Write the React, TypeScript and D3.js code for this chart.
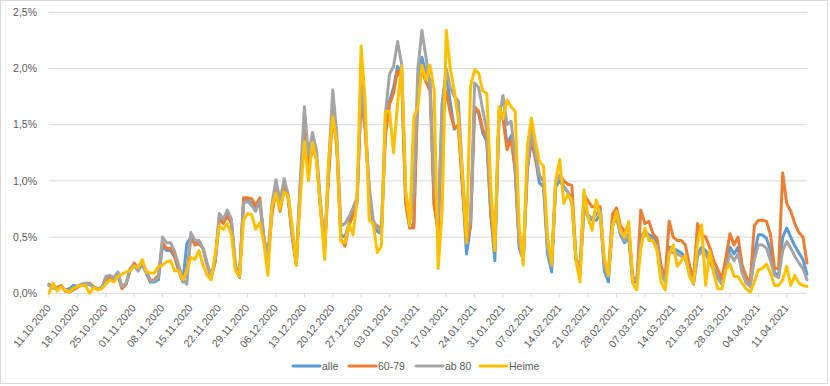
import React, { useEffect, useRef } from "react";
import * as d3 from "d3";

// daily share in %, 11.10.2020 - 16.04.2021 (one row = one week)
const alle = [
  0.07, 0.05, 0.04, 0.06, 0.03, 0.04, 0.07,
  0.06, 0.07, 0.08, 0.08, 0.05, 0.04, 0.05,
  0.13, 0.15, 0.13, 0.17, 0.05, 0.08, 0.22,
  0.25, 0.20, 0.26, 0.18, 0.10, 0.10, 0.12,
  0.42, 0.38, 0.38, 0.32, 0.20, 0.10, 0.44,
  0.50, 0.44, 0.45, 0.40, 0.26, 0.15, 0.28,
  0.66, 0.63, 0.70, 0.63, 0.22, 0.14, 0.82,
  0.83, 0.80, 0.75, 0.82, 0.48, 0.30, 0.72,
  0.95, 0.76, 0.97, 0.86, 0.52, 0.26, 0.97,
  1.50, 1.15, 1.33, 1.20, 0.75, 0.40, 1.10,
  1.65, 1.35, 0.52, 0.50, 0.62, 0.72, 0.80,
  1.82, 1.50, 0.90, 0.60, 0.55, 0.53, 1.45,
  1.71, 1.83, 2.02, 1.95, 0.80, 0.58, 0.62,
  1.85, 2.10, 1.95, 1.90, 0.80, 0.55, 1.69,
  1.94, 1.70, 1.46, 1.50, 0.95, 0.35, 0.60,
  1.65, 1.60, 1.43, 1.35, 0.70, 0.29, 1.55,
  1.60, 1.33, 1.40, 1.10, 0.40, 0.30, 1.10,
  1.35, 1.20, 0.98, 0.95, 0.35, 0.19, 0.95,
  1.00, 0.95, 0.90, 0.85, 0.30, 0.20, 0.75,
  0.70, 0.65, 0.65, 0.70, 0.20, 0.10, 0.60,
  0.68, 0.52, 0.45, 0.50, 0.10, 0.10, 0.50,
  0.55, 0.52, 0.50, 0.45, 0.20, 0.12, 0.41,
  0.40, 0.38, 0.36, 0.32, 0.20, 0.09, 0.35,
  0.41, 0.38, 0.30, 0.22, 0.15, 0.09, 0.25,
  0.41, 0.35, 0.41, 0.20, 0.10, 0.07, 0.35,
  0.52, 0.52, 0.49, 0.38, 0.18, 0.16, 0.50,
  0.58, 0.50, 0.42, 0.36, 0.30, 0.17,
];

const alter6079 = [
  0.08, 0.06, 0.05, 0.07, 0.02, 0.01, 0.03,
  0.05, 0.08, 0.09, 0.09, 0.06, 0.04, 0.05,
  0.12, 0.14, 0.14, 0.16, 0.04, 0.08, 0.20,
  0.27, 0.22, 0.27, 0.20, 0.11, 0.12, 0.16,
  0.45, 0.40, 0.40, 0.33, 0.22, 0.12, 0.18,
  0.50, 0.43, 0.44, 0.40, 0.25, 0.14, 0.28,
  0.66, 0.62, 0.69, 0.62, 0.22, 0.15, 0.85,
  0.85, 0.84, 0.78, 0.85, 0.50, 0.30, 0.70,
  0.92, 0.73, 0.95, 0.85, 0.50, 0.25, 0.95,
  1.45, 1.10, 1.30, 1.20, 0.75, 0.38, 1.05,
  1.60, 1.30, 0.48, 0.42, 0.60, 0.70, 0.82,
  1.75, 1.45, 0.90, 0.62, 0.60, 0.57, 1.40,
  1.68, 1.78, 1.98, 1.90, 0.80, 0.58, 0.58,
  1.80, 1.99, 1.88, 1.80, 0.78, 0.55, 1.55,
  1.80, 1.60, 1.47, 1.49, 0.95, 0.45, 0.60,
  1.66, 1.62, 1.46, 1.38, 0.70, 0.38, 1.60,
  1.55, 1.28, 1.37, 1.10, 0.45, 0.30, 1.10,
  1.40, 1.20, 1.04, 1.00, 0.45, 0.25, 1.00,
  1.05, 1.00, 0.97, 0.96, 0.30, 0.25, 0.88,
  0.82, 0.77, 0.77, 0.77, 0.25, 0.18, 0.70,
  0.76, 0.60, 0.55, 0.60, 0.15, 0.10, 0.74,
  0.62, 0.64, 0.53, 0.49, 0.25, 0.13, 0.64,
  0.50, 0.47, 0.47, 0.43, 0.25, 0.12, 0.62,
  0.52, 0.50, 0.41, 0.29, 0.21, 0.13, 0.32,
  0.53, 0.43, 0.50, 0.25, 0.15, 0.10, 0.60,
  0.65, 0.65, 0.64, 0.52, 0.22, 0.22, 1.07,
  0.80, 0.73, 0.62, 0.54, 0.50, 0.27,
];

const ab80 = [
  0.07, 0.05, 0.04, 0.06, 0.03, 0.02, 0.05,
  0.06, 0.08, 0.09, 0.08, 0.05, 0.04, 0.05,
  0.15, 0.16, 0.14, 0.19, 0.06, 0.09, 0.20,
  0.25, 0.20, 0.27, 0.20, 0.12, 0.11, 0.14,
  0.50, 0.45, 0.45, 0.37, 0.25, 0.13, 0.08,
  0.54, 0.47, 0.47, 0.40, 0.27, 0.15, 0.30,
  0.71, 0.66, 0.74, 0.66, 0.25, 0.16, 0.80,
  0.82, 0.78, 0.73, 0.82, 0.50, 0.33, 0.80,
  1.01, 0.82, 1.02, 0.88, 0.55, 0.28, 1.00,
  1.66, 1.23, 1.43, 1.27, 0.80, 0.42, 1.15,
  1.81, 1.42, 0.60, 0.62, 0.68, 0.76, 0.85,
  1.88, 1.50, 0.95, 0.65, 0.58, 0.55, 1.60,
  1.95, 2.02, 2.24, 2.04, 0.90, 0.65, 0.90,
  2.00, 2.34, 2.10, 1.84, 1.00, 0.65, 1.69,
  2.00, 1.83, 1.75, 1.71, 1.07, 0.53, 0.65,
  1.87, 1.83, 1.63, 1.45, 0.80, 0.41, 1.55,
  1.76, 1.50, 1.53, 1.20, 0.45, 0.30, 1.13,
  1.46, 1.25, 1.05, 1.00, 0.40, 0.24, 0.99,
  1.05, 0.95, 0.90, 0.80, 0.30, 0.20, 0.74,
  0.68, 0.67, 0.70, 0.74, 0.23, 0.15, 0.60,
  0.68, 0.53, 0.47, 0.53, 0.12, 0.12, 0.47,
  0.53, 0.50, 0.47, 0.42, 0.18, 0.10, 0.37,
  0.36, 0.35, 0.33, 0.30, 0.18, 0.08, 0.33,
  0.37, 0.35, 0.28, 0.20, 0.13, 0.08, 0.22,
  0.35, 0.29, 0.35, 0.18, 0.09, 0.06, 0.30,
  0.43, 0.43, 0.40, 0.29, 0.16, 0.14, 0.38,
  0.46, 0.40, 0.33, 0.27, 0.22, 0.12,
];

const heime = [
  0.00, 0.09, 0.02, 0.06, 0.03, 0.01, 0.04,
  0.06, 0.07, 0.07, 0.00, 0.05, 0.03, 0.04,
  0.08, 0.12, 0.10, 0.15, 0.17, 0.19, 0.20,
  0.24, 0.23, 0.30, 0.19, 0.18, 0.18, 0.24,
  0.25, 0.28, 0.29, 0.20, 0.20, 0.12, 0.20,
  0.32, 0.30, 0.38, 0.25, 0.16, 0.12, 0.35,
  0.60, 0.57, 0.62, 0.52, 0.20, 0.15, 0.65,
  0.71, 0.70, 0.57, 0.63, 0.45, 0.16, 0.77,
  0.89, 0.75, 0.90, 0.87, 0.60, 0.25, 0.85,
  1.35, 1.00, 1.34, 1.18, 0.75, 0.30, 1.19,
  1.57, 1.34, 0.46, 0.45, 0.62, 0.52, 0.83,
  2.20, 1.70, 0.65, 0.62, 0.36, 0.42, 1.62,
  1.62, 1.25, 1.69, 2.02, 0.92, 0.60, 1.57,
  1.65, 2.03, 1.90, 2.03, 1.81, 0.22, 0.74,
  2.34, 2.00, 1.80, 1.54, 1.04, 0.45, 1.84,
  1.99, 1.96, 1.80, 1.78, 0.95, 0.38, 1.66,
  1.55, 1.72, 1.66, 1.62, 0.60, 0.25, 1.31,
  1.56, 1.35, 1.17, 1.13, 0.50, 0.26, 1.00,
  1.19, 0.80, 0.88, 0.83, 0.29, 0.10, 0.92,
  0.67, 0.56, 0.83, 0.68, 0.32, 0.16, 0.59,
  0.73, 0.55, 0.50, 0.64, 0.09, 0.03, 0.40,
  0.58, 0.47, 0.47, 0.38, 0.10, 0.03, 0.35,
  0.43, 0.24, 0.29, 0.34, 0.15, 0.09, 0.45,
  0.61, 0.07, 0.38, 0.18, 0.04, 0.04, 0.21,
  0.26, 0.15, 0.15, 0.09, 0.04, 0.01, 0.10,
  0.21, 0.22, 0.26, 0.18, 0.07, 0.07, 0.12,
  0.24, 0.07, 0.16, 0.09, 0.07, 0.06,
];

const seriesNames = ["alle", "60-79", "ab 80", "Heime"];
const seriesColors = ["#5B9BD5", "#ED7D31", "#A5A5A5", "#FFC000"];
const yTicks = [0, 0.5, 1, 1.5, 2, 2.5];

const startDate = new Date(Date.UTC(2020, 9, 11));

const W = 830, H = 386;
const margin = { top: 12.3, right: 23, bottom: 92.7, left: 49 };
const legendX = [293, 349, 416, 480];
const FONT = "'Liberation Sans', Arial, sans-serif";

export default function App() {
  const ref = useRef<SVGSVGElement>(null);

  useEffect(() => {
    const svg = d3.select(ref.current);
    svg.selectAll("*").remove();

    const dates = d3.utcDay.range(startDate, d3.utcDay.offset(startDate, alle.length));
    const series = [alle, alter6079, ab80, heime];

    const x = d3
      .scaleUtc()
      .domain([dates[0], dates[dates.length - 1]])
      .range([margin.left, W - margin.right]);
    const y = d3
      .scaleLinear()
      .domain([0, 2.5])
      .range([H - margin.bottom, margin.top]);

    // chart frame
    svg.append("rect")
      .attr("x", 0.5).attr("y", 0.5)
      .attr("width", 827).attr("height", 383)
      .attr("fill", "#fff").attr("stroke", "#D9D9D9");

    // grid + y labels
    const grid = svg.append("g");
    grid.selectAll("line")
      .data(yTicks)
      .join("line")
      .attr("x1", margin.left).attr("x2", W - margin.right)
      .attr("y1", (d) => y(d)).attr("y2", (d) => y(d))
      .attr("stroke", "#D9D9D9").attr("stroke-width", 1);

    const fmtPct = (v: number) => v.toFixed(1).replace(".", ",") + "%";
    grid.selectAll("text")
      .data(yTicks)
      .join("text")
      .attr("x", 37).attr("y", (d) => y(d))
      .attr("dy", "0.35em")
      .attr("text-anchor", "end")
      .attr("font-family", FONT).attr("font-size", 10.5)
      .attr("fill", "#595959")
      .text(fmtPct);

    // x ticks: every sunday
    const weekTicks = d3.utcSunday.range(dates[0], d3.utcDay.offset(dates[dates.length - 1], 1));
    const fmtDate = d3.utcFormat("%d.%m.%Y");
    const xa = svg.append("g");
    xa.selectAll("line")
      .data(weekTicks)
      .join("line")
      .attr("x1", (d) => x(d)).attr("x2", (d) => x(d))
      .attr("y1", y(0)).attr("y2", y(0) + 4)
      .attr("stroke", "#D9D9D9");
    xa.selectAll("text")
      .data(weekTicks)
      .join("text")
      .attr("transform", (d) => `translate(${x(d) + 2.5},${y(0) + 15}) rotate(-50)`)
      .attr("text-anchor", "end")
      .attr("font-family", FONT).attr("font-size", 10.5)
      .attr("fill", "#595959")
      .text(fmtDate);

    // lines
    const line = d3
      .line<number>()
      .x((_, i) => x(dates[i]))
      .y((d) => y(d));

    svg.append("g")
      .selectAll("path")
      .data(series)
      .join("path")
      .attr("d", (d) => line(d))
      .attr("fill", "none")
      .attr("stroke", (_, i) => seriesColors[i])
      .attr("stroke-width", 3)
      .attr("stroke-linejoin", "round")
      .attr("stroke-linecap", "round");

    // legend
    const lg = svg.append("g").attr("transform", "translate(0,366)");
    const item = lg.selectAll("g")
      .data(seriesNames)
      .join("g")
      .attr("transform", (_, i) => `translate(${legendX[i]},0)`);
    item.append("line")
      .attr("x1", 0).attr("x2", 27)
      .attr("stroke", (_, i) => seriesColors[i])
      .attr("stroke-width", 3)
      .attr("stroke-linecap", "round");
    item.append("text")
      .attr("x", 29).attr("dy", "0.35em")
      .attr("font-family", FONT).attr("font-size", 10.5)
      .attr("fill", "#595959")
      .text((d) => d);
  }, []);

  return (
    <div>
      <style>{`body { margin: 0; }`}</style>
      <svg ref={ref} width={W} height={H} style={{ display: "block" }} />
    </div>
  );
}
